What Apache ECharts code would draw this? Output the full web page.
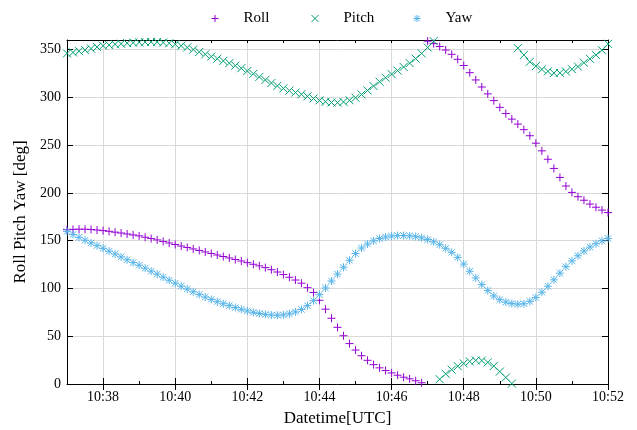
<!DOCTYPE html>
<html>
<head>
<meta charset="utf-8">
<script src="https://cdn.jsdelivr.net/npm/echarts@6/dist/echarts.min.js"></script>
<style>
  html, body { margin: 0; padding: 0; background: #fff; }
  #chart { width: 637px; height: 430px; }
</style>
</head>
<body>
<div id="chart"></div>
<script>
// Attitude samples, one every 10 s starting at 10:37:00 UTC
const stepSeconds = 10;

const seriesNames = ['Roll', 'Pitch', 'Yaw'];

// Clock minutes spanned by the x axis; labels on the even minutes
const timeLabels = [
  '10:37', '10:38', '10:39', '10:40', '10:41', '10:42', '10:43', '10:44',
  '10:45', '10:46', '10:47', '10:48', '10:49', '10:50', '10:51', '10:52'
];

const rollDeg = [
  161.5, 161.8, 162.0, 162.0, 161.7, 161.1, 160.5, 159.8, 158.9, 158.0,
  157.0, 156.0, 155.0, 153.6, 152.2, 150.8, 149.2, 147.6, 146.0, 144.4,
  142.9, 141.3, 139.8, 138.2, 136.6, 135.0, 133.4, 131.9, 130.3, 128.7,
  127.0, 125.3, 123.6, 121.8, 119.6, 117.2, 114.5, 111.7, 108.8, 105.5,
  100.8, 95.8, 87.6, 78.3, 68.8, 59.3, 50.5, 42.3, 35.5, 29.6,
  24.8, 20.3, 16.9, 14.1, 11.6, 9.2, 7.1, 5.4, 3.4, 1.3,
  358.8, 356.2, 353.2, 349.5, 345.0, 339.8, 333.3, 325.8, 318.2, 310.8,
  303.6, 296.6, 289.5, 283.0, 277.2, 272.0, 266.2, 259.8, 252.0, 244.0,
  235.2, 225.6, 216.2, 207.2, 200.5, 196.0, 192.3, 188.3, 185.0, 182.0,
  179.4
];

const pitchDeg = [
  346.0, 347.0, 348.3, 349.6, 351.0, 352.6, 354.0, 354.8, 355.5, 356.1,
  356.7, 357.2, 357.5, 357.8, 358.0, 357.9, 357.4, 356.6, 355.5, 354.0,
  352.2, 350.0, 347.5, 345.0, 342.7, 340.4, 338.1, 335.8, 333.2, 330.5,
  327.6, 324.6, 321.4, 318.2, 315.0, 312.0, 309.3, 307.0, 305.0, 303.2,
  301.0, 298.8, 296.8, 295.4, 294.6, 294.4, 295.2, 296.9, 299.5, 303.0,
  307.2, 311.8, 316.3, 320.5, 324.3, 328.0, 331.8, 335.8, 340.5, 346.0,
  352.2, 358.8, 5.0, 10.6, 15.0, 18.7, 21.5, 23.6, 24.7, 24.5,
  22.6, 18.8, 13.0, 6.8, 0.5, 351.5, 344.3, 337.2, 332.7, 329.3,
  327.2, 325.4, 325.6, 327.0, 329.4, 332.2, 336.2, 340.3, 344.4, 349.3,
  356.0
];

const yawDeg = [
  159.5, 156.5, 153.5, 150.5, 147.6, 144.8, 142.0, 139.0, 136.0, 133.0,
  130.0, 127.1, 124.3, 121.2, 118.1, 115.0, 111.8, 108.6, 105.5, 102.4,
  99.4, 96.5, 93.7, 91.0, 88.5, 86.2, 84.0, 82.0, 80.0, 78.2,
  76.5, 75.0, 73.8, 72.8, 72.2, 71.9, 72.3, 73.5, 75.4, 78.0,
  82.0, 87.2, 93.5, 100.5, 107.8, 115.0, 122.2, 129.5, 136.5, 142.3,
  146.5, 149.8, 152.2, 153.8, 154.8, 155.3, 155.4, 155.0, 154.2, 153.0,
  151.2, 148.8, 145.8, 142.0, 137.8, 132.5, 125.5, 118.0, 111.0, 104.0,
  97.8, 92.2, 88.2, 85.7, 84.2, 83.5, 84.0, 86.5, 90.5, 96.0,
  102.3, 109.0, 116.0, 122.8, 128.8, 134.2, 139.2, 143.3, 146.8, 149.8,
  152.3
];

const yTicks = { min: 0, max: 360, step: 50 };

const colors = ['#9400d3', '#009e73', '#56b4e9'];
// gnuplot-style point glyphs: plus, cross, asterisk
const glyphs = [
  'path://M0 -1L0 1M-1 0L1 0',
  'path://M-1 -1L1 1M-1 1L1 -1',
  'path://M0 -1L0 1M-1 0L1 0M-0.8 -0.8L0.8 0.8M-0.8 0.8L0.8 -0.8'
];

// x is expressed in minutes after the first clock label
const toPoints = arr => arr.map((v, i) => [i * stepSeconds / 60, v]);
const seriesValues = [rollDeg, pitchDeg, yawDeg];
const xMax = timeLabels.length - 1;
const isEvenMinute = idx => idx % 2 === 1;

const FONT = '"Liberation Serif", "Times New Roman", serif';
const BLACK = '#000';
const GRID = '#d9d9d9';

const chart = echarts.init(document.getElementById('chart'), null, { renderer: 'canvas' });

const legendLefts = [211, 311, 413];

// minute ticks (short) on a numeric axis that also carries the data
const minuteAxis = pos => ({
  type: 'value',
  position: pos,
  min: 0,
  max: xMax,
  interval: 1,
  axisLine: { show: true, onZero: false, lineStyle: { color: BLACK, width: 1 } },
  axisTick: { show: true, inside: true, length: 3, lineStyle: { color: BLACK } },
  axisLabel: { show: false },
  splitLine: { show: false }
});

// labelled ticks (long) on the even minutes
const labelAxis = (pos, withLabels) => ({
  type: 'category',
  position: pos,
  data: timeLabels,
  boundaryGap: false,
  axisLine: { show: false },
  axisTick: { show: true, inside: true, length: 6, interval: isEvenMinute, lineStyle: { color: BLACK } },
  axisLabel: withLabels
    ? { show: true, interval: isEvenMinute, fontFamily: FONT, fontSize: 14, color: BLACK, margin: 6 }
    : { show: false },
  splitLine: withLabels
    ? { show: true, interval: isEvenMinute, lineStyle: { color: GRID, width: 1 } }
    : { show: false }
});

const baseY = {
  type: 'value',
  min: yTicks.min,
  max: yTicks.max,
  interval: yTicks.step,
  axisLine: { show: true, onZero: false, lineStyle: { color: BLACK, width: 1 } },
  axisTick: { show: true, inside: true, length: 6, lineStyle: { color: BLACK } },
  splitLine: { show: false }
};

chart.setOption({
  animation: false,
  backgroundColor: '#fff',
  textStyle: { fontFamily: FONT },
  grid: { left: 67, right: 29, top: 40, bottom: 46, containLabel: false, outerBoundsMode: 'none' },
  legend: seriesNames.map((name, i) => ({
    data: [name],
    left: legendLefts[i],
    top: 11,
    padding: 0,
    itemWidth: 7,
    itemHeight: 7,
    icon: glyphs[i],
    itemStyle: { color: 'transparent', borderColor: colors[i], borderWidth: 1 },
    formatter: '{t|{name}}',
    textStyle: {
      fontFamily: FONT,
      fontSize: 15,
      color: BLACK,
      rich: { t: { fontFamily: FONT, fontSize: 15, color: BLACK, padding: [0, 0, 0, 20] } }
    },
    selectedMode: false
  })),
  xAxis: [
    Object.assign(minuteAxis('bottom'), {
      name: 'Datetime[UTC]',
      nameLocation: 'middle',
      nameGap: 26,
      nameTextStyle: { fontFamily: FONT, fontSize: 17, color: BLACK }
    }),
    labelAxis('bottom', true),
    minuteAxis('top'),
    labelAxis('top', false)
  ],
  yAxis: [
    Object.assign({}, baseY, {
      position: 'left',
      name: 'Roll Pitch Yaw [deg]',
      nameLocation: 'middle',
      nameGap: 37,
      nameRotate: 90,
      nameTextStyle: { fontFamily: FONT, fontSize: 17, color: BLACK },
      axisLabel: { fontFamily: FONT, fontSize: 14, color: BLACK, margin: 6, showMaxLabel: false },
      splitLine: { show: true, lineStyle: { color: GRID, width: 1 } }
    }),
    Object.assign({}, baseY, {
      position: 'right',
      axisLabel: { show: false }
    })
  ],
  series: seriesNames.map((name, i) => ({
    name: name,
    type: 'scatter',
    xAxisIndex: 0,
    yAxisIndex: 0,
    data: toPoints(seriesValues[i]),
    symbol: glyphs[i],
    symbolSize: 8,
    itemStyle: { color: 'transparent', borderColor: colors[i], borderWidth: 1, opacity: 1 },
    emphasis: { disabled: true }
  }))
});
</script>
</body>
</html>
